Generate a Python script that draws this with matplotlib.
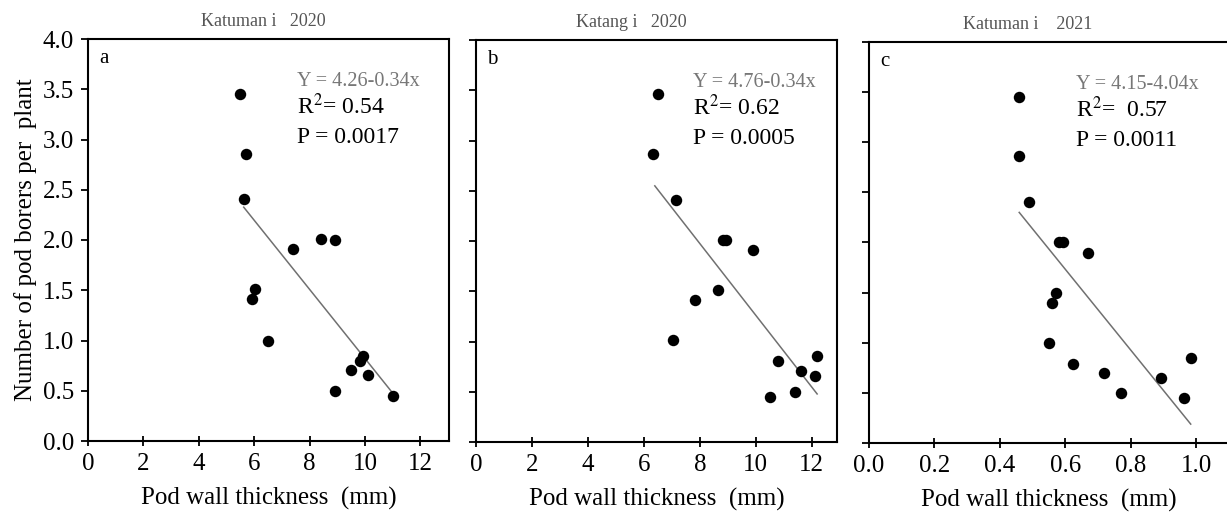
import numpy as np
import matplotlib
matplotlib.use("Agg")
import matplotlib.pyplot as plt

plt.rcParams['font.family'] = ['Liberation Serif', 'DejaVu Serif']
plt.rcParams['mathtext.fontset'] = 'stix'

# panel a: Katumani 2020
xa = [5.49, 5.69, 5.62, 7.41, 8.41, 8.93, 6.02, 5.91, 6.51, 9.92, 9.82, 9.51, 10.12, 8.93, 11.02]
ya = [3.45, 2.86, 2.41, 1.91, 2.01, 2.00, 1.51, 1.41, 1.00, 0.85, 0.80, 0.71, 0.66, 0.50, 0.45]
# panel b: Katangi 2020
xb = [6.51, 6.33, 7.13, 8.81, 8.93, 9.90, 8.63, 7.82, 7.05, 10.80, 11.60, 12.11, 12.19, 11.39, 10.50]
yb = [3.46, 2.87, 2.41, 2.01, 2.01, 1.91, 1.51, 1.41, 1.01, 0.81, 0.71, 0.66, 0.86, 0.50, 0.45]
# panel c: Katumani 2021
xc = [0.459, 0.459, 0.489, 0.580, 0.592, 0.670, 0.570, 0.559, 0.550, 0.622, 0.719, 0.771, 0.891, 0.964, 0.983]
yc = [3.45, 2.86, 2.40, 2.00, 2.00, 1.90, 1.50, 1.40, 1.00, 0.79, 0.70, 0.50, 0.645, 0.45, 0.845]

# fitted lines as drawn: intercept, slope, x start, x end
fit_intercept = [4.26, 4.83, 4.15]
fit_slope = [0.344, 0.357, 4.03]
fit_x0 = [5.62, 6.39, 0.459]
fit_x1 = [11.02, 12.19, 0.983]

titles = ["Katuman i   2020", "Katang i   2020", "Katuman i    2021"]
letters = ["a", "b", "c"]
equations = ["Y = 4.26-0.34x", "Y = 4.76-0.34x", "Y = 4.15-4.04x"]
r2_text = ["R$^2$= 0.54", "R$^2$= 0.62", "R$^2$=  0.57"]
p_text = ["P = 0.0017", "P = 0.0005", "P = 0.0011"]

xticks = [[0, 2, 4, 6, 8, 10, 12], [0, 2, 4, 6, 8, 10, 12], [0.0, 0.2, 0.4, 0.6, 0.8, 1.0]]
xtick_labels = [["0", "2", "4", "6", "8", "10", "12"],
                ["0", "2", "4", "6", "8", "10", "12"],
                ["0.0", "0.2", "0.4", "0.6", "0.8", "1.0"]]
xlims = [(0, 13.03), (0, 12.9), (0, 1.1)]
yticks = [0.0, 0.5, 1.0, 1.5, 2.0, 2.5, 3.0, 3.5, 4.0]

positions = [
    [88 / 1227, 73 / 514, 361 / 1227, 402 / 514],
    [476 / 1227, 72 / 514, 361 / 1227, 402 / 514],
    [869 / 1227, 71 / 514, 360 / 1227, 401 / 514],
]
text_x = [0.58, 0.60, 0.575]
title_x = [0.485, 0.43, 0.44]

fig = plt.figure(figsize=(12.27, 5.14), dpi=100)
data = [(xa, ya), (xb, yb), (xc, yc)]

for i, (xs, ys) in enumerate(data):
    ax = fig.add_axes(positions[i])
    ax.scatter(xs, ys, s=68, color='black', zorder=3, linewidths=0)
    lx = np.array([fit_x0[i], fit_x1[i]])
    ax.plot(lx, fit_intercept[i] - fit_slope[i] * lx, color='#707070', lw=1.1, zorder=2)

    ax.set_xlim(*xlims[i])
    ax.set_ylim(0, 4.0)
    ax.set_xticks(xticks[i])
    ax.set_xticklabels(xtick_labels[i])
    ax.set_yticks(yticks)
    if i == 0:
        ax.set_yticklabels([f"{v:.1f}" for v in yticks])
        ax.set_ylabel("Number of pod borers per  plant", fontsize=18, labelpad=4)
    else:
        ax.set_yticklabels([])
    ax.set_xlabel("Pod wall thickness  (mm)", fontsize=18, labelpad=9)
    ax.tick_params(axis='both', labelsize=18, width=1.3, length=5, colors='black')
    ax.tick_params(axis='x', direction='inout', length=7, pad=5)
    ax.tick_params(axis='y', direction='out', pad=5)
    for sp in ax.spines.values():
        sp.set_linewidth(1.5)

    ax.text(0.03, 0.975, letters[i], transform=ax.transAxes, fontsize=15, va='top')
    ax.text(text_x[i], 0.895, equations[i], transform=ax.transAxes, fontsize=14.5,
            color='#777777', va='center')
    ax.text(text_x[i], 0.832, r2_text[i], transform=ax.transAxes, fontsize=17, va='center')
    ax.text(text_x[i], 0.755, p_text[i], transform=ax.transAxes, fontsize=17, va='center')
    ax.text(title_x[i], 1.022, titles[i], transform=ax.transAxes, fontsize=13,
            color='#555555', ha='center', va='bottom')

fig.savefig("out.png", dpi=100)
